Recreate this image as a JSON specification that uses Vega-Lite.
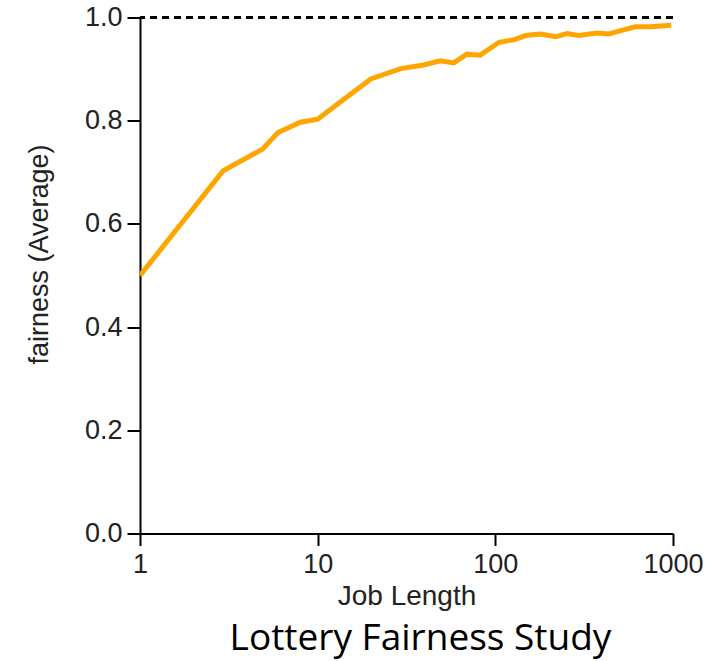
{
  "$schema": "https://vega.github.io/schema/vega-lite/v6.json",
  "autosize": {"type": "none"},
  "width": 533,
  "height": 516,
  "padding": {"left": 140, "top": 17.5, "right": 49, "bottom": 127.5},
  "background": "white",
  "config": {"view": {"stroke": null}},
  "title": {
    "text": "Lottery Fairness Study",
    "orient": "bottom",
    "font": "Open Sans",
    "fontSize": 37,
    "fontWeight": "normal",
    "color": "#000000",
    "offset": 10,
    "dx": 14
  },
  "data": {
    "values": [
      {"job": 1, "fairness": 0.5},
      {"job": 2.94, "fairness": 0.703},
      {"job": 4.9, "fairness": 0.745},
      {"job": 5.98, "fairness": 0.777},
      {"job": 8.0, "fairness": 0.797},
      {"job": 10, "fairness": 0.803},
      {"job": 19.9, "fairness": 0.881},
      {"job": 29.4, "fairness": 0.901},
      {"job": 39.4, "fairness": 0.908},
      {"job": 49.1, "fairness": 0.916},
      {"job": 58.3, "fairness": 0.912},
      {"job": 69.2, "fairness": 0.929},
      {"job": 82.2, "fairness": 0.927},
      {"job": 105, "fairness": 0.952},
      {"job": 128, "fairness": 0.957},
      {"job": 148, "fairness": 0.965},
      {"job": 180, "fairness": 0.968},
      {"job": 219, "fairness": 0.963},
      {"job": 254, "fairness": 0.969},
      {"job": 294, "fairness": 0.965},
      {"job": 375, "fairness": 0.97},
      {"job": 435, "fairness": 0.968},
      {"job": 502, "fairness": 0.974},
      {"job": 613, "fairness": 0.982},
      {"job": 745, "fairness": 0.982},
      {"job": 977, "fairness": 0.985}
    ]
  },
  "layer": [
    {
      "mark": {"type": "rule", "color": "#000000", "strokeDash": [7, 5], "strokeWidth": 1.5},
      "encoding": {"y": {"datum": 1, "type": "quantitative"}}
    },
    {
      "mark": {"type": "line", "color": "#FFA500", "strokeWidth": 5, "clip": true},
      "encoding": {
        "x": {
          "field": "job",
          "type": "quantitative",
          "scale": {"type": "log", "domain": [1, 1000], "nice": false},
          "axis": {
            "title": "Job Length",
            "values": [1, 10, 100, 1000],
            "format": "d",
            "grid": false,
            "domainColor": "#000000",
            "domainWidth": 2,
            "tickColor": "#000000",
            "tickWidth": 2,
            "tickSize": 12,
            "labelFont": "Liberation Sans",
            "labelFontSize": 27,
            "labelColor": "#222222",
            "labelPadding": 6,
            "labelFlush": false,
            "titleFont": "Liberation Sans",
            "titleFontSize": 28,
            "titleFontWeight": "normal",
            "titleColor": "#222222",
            "titlePadding": 5
          }
        },
        "y": {
          "field": "fairness",
          "type": "quantitative",
          "scale": {"domain": [0, 1], "nice": false},
          "axis": {
            "title": "fairness (Average)",
            "values": [0, 0.2, 0.4, 0.6, 0.8, 1.0],
            "format": ".1f",
            "grid": false,
            "domainColor": "#000000",
            "domainWidth": 2,
            "tickColor": "#000000",
            "tickWidth": 2,
            "tickSize": 13,
            "labelFont": "Liberation Sans",
            "labelFontSize": 27,
            "labelColor": "#222222",
            "labelPadding": 5,
            "titleFont": "Liberation Sans",
            "titleFontSize": 27,
            "titleFontWeight": "normal",
            "titleColor": "#222222",
            "titleX": -87,
            "titleY": 236.5
          }
        }
      }
    }
  ]
}
